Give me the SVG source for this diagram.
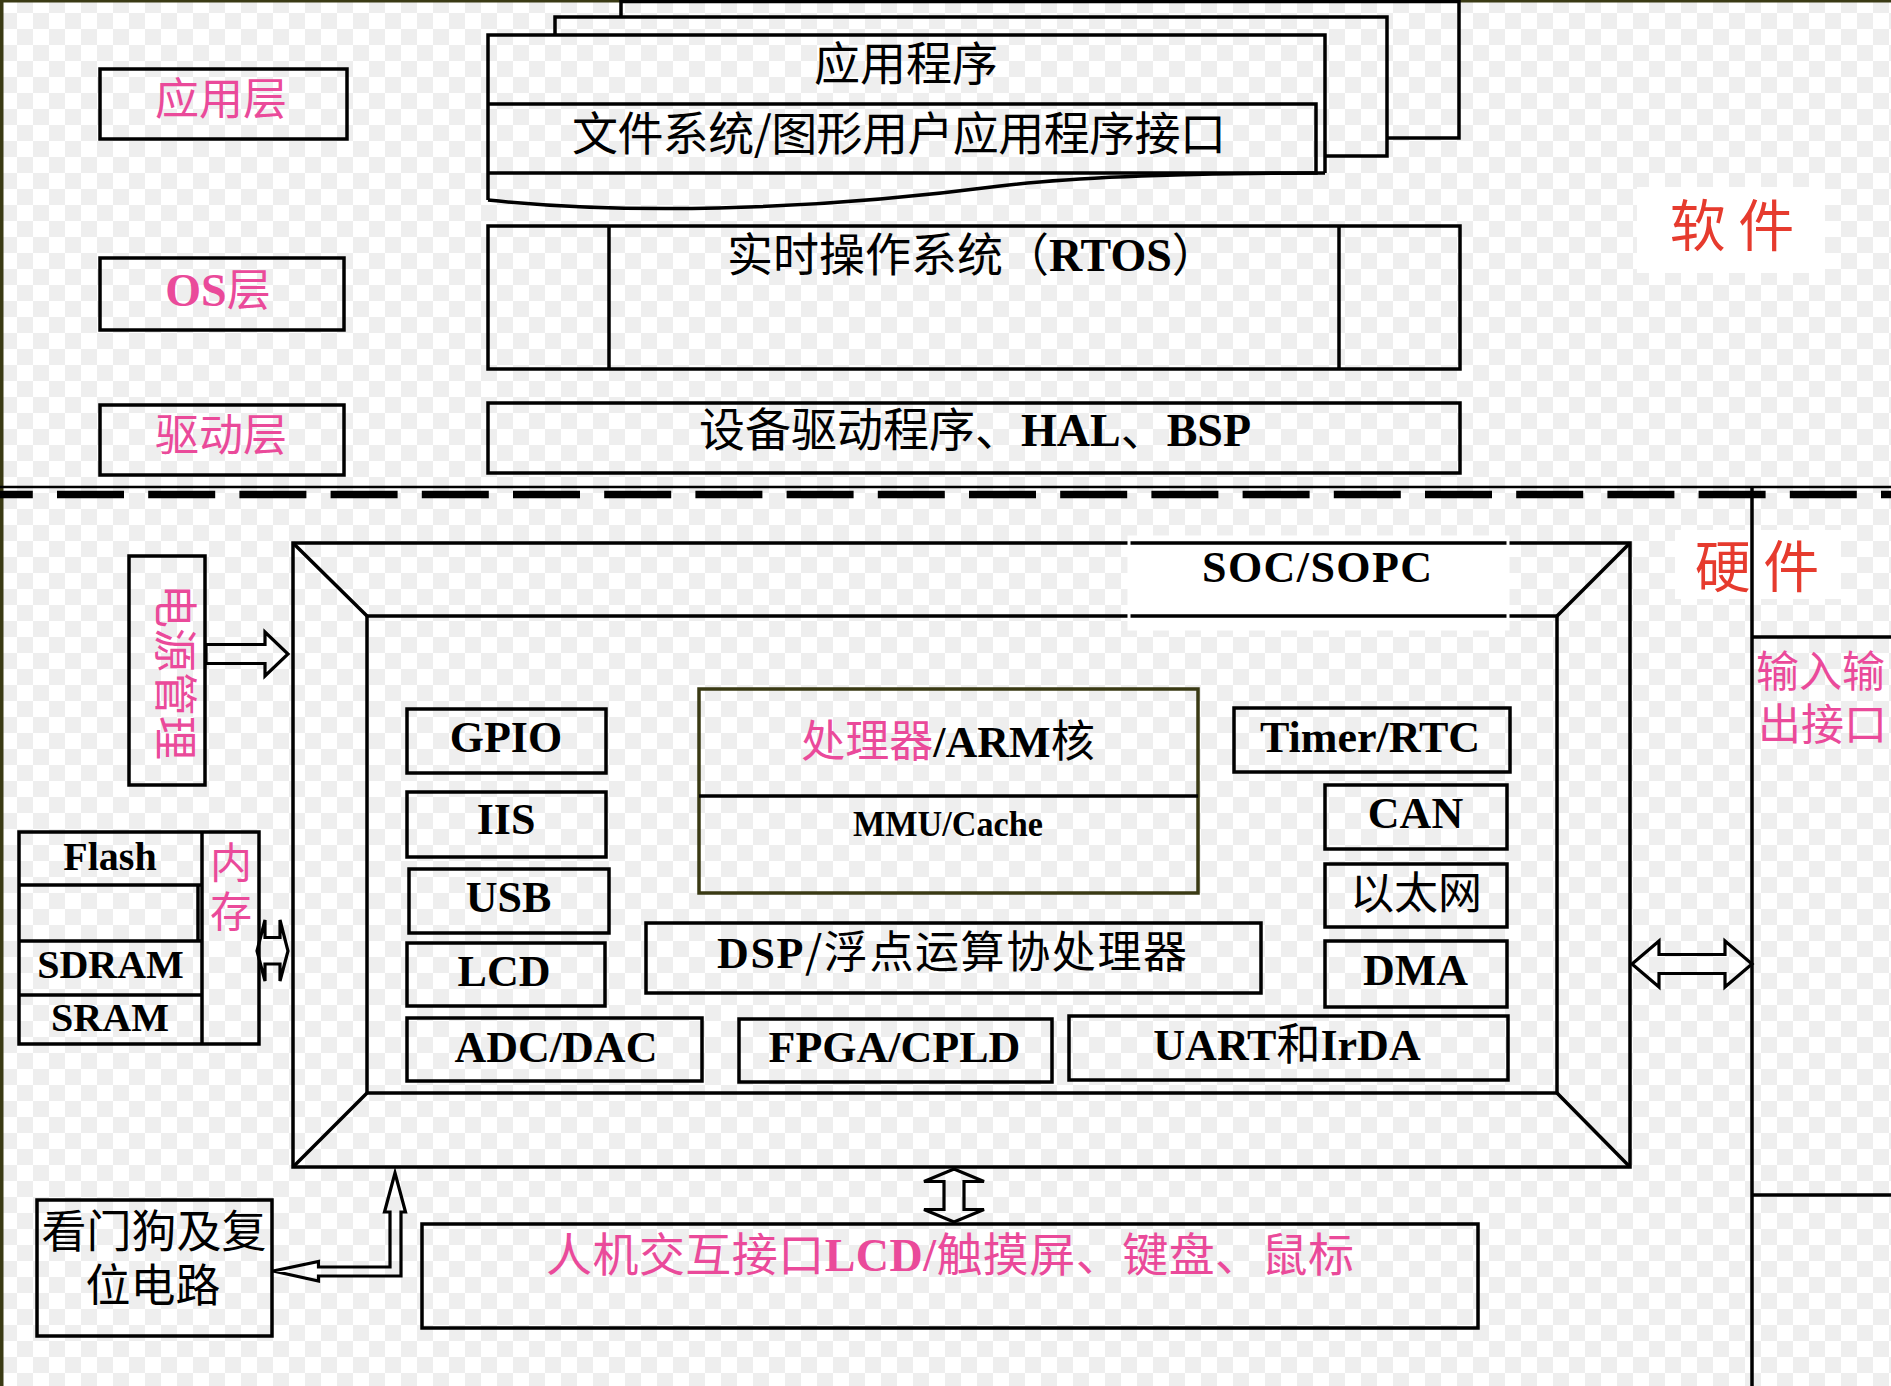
<svg xmlns="http://www.w3.org/2000/svg" width="1891" height="1386" viewBox="0 0 1891 1386">
<style>
.b{fill:none;stroke:#000;stroke-width:3.5}
.a{fill:none;stroke:#000;stroke-width:3.2;stroke-linejoin:miter}
.cjk{font-family:"Noto Sans CJK SC",sans-serif;font-weight:normal}
.lat{font-family:"Liberation Serif","Noto Sans CJK SC",serif;font-weight:bold}
.mix{font-family:"Liberation Serif","Noto Sans CJK SC",serif}
.pk{fill:#ea4a9a}
.rd{fill:#e63b2e}
.bk{fill:#000}
.wb{fill:#fff;stroke:none}
</style>
<defs>
<pattern id="chk" x="1" y="-3" width="32" height="32" patternUnits="userSpaceOnUse">
<rect width="32" height="32" fill="#fff"/>
<rect x="16" width="16" height="16" fill="#eeeeee"/>
<rect y="16" width="16" height="16" fill="#eeeeee"/>
</pattern>
</defs>
<rect width="1891" height="1386" fill="url(#chk)"/>
<rect x="0" y="0" width="1891" height="2.5" fill="#3a3a14"/>
<rect x="0" y="0" width="3.5" height="1386" fill="#3a3a14"/>

<!-- software side -->
<g id="label-app">
<rect class="b" x="100" y="69" width="247" height="70"/>
<text class="cjk pk" x="221" y="115" font-size="44" text-anchor="middle">应用层</text>
</g>
<g id="label-os">
<rect class="b" x="100" y="258" width="244" height="72"/>
<text x="218" y="306" text-anchor="middle" class="pk"><tspan class="lat" font-size="46">OS</tspan><tspan class="cjk" font-size="44">层</tspan></text>
</g>
<g id="label-drv">
<rect class="b" x="100" y="405" width="244" height="70"/>
<text class="cjk pk" x="221" y="451" font-size="44" text-anchor="middle">驱动层</text>
</g>

<g id="app-stack">
<path class="b" d="M621,17 V1.5 H1459 V138 H1387"/>
<path class="b" d="M555,35 V17 H1387 V156 H1325"/>
<path class="b" d="M488,200 V35 H1325 V173"/>
<path class="b" d="M488,104 H1316 V173 H488"/>
<path class="b" d="M488,200 C620,214 800,212 1000,186 C1080,176 1200,173 1325,173"/>
<text class="cjk bk" x="906" y="80" font-size="46" text-anchor="middle">应用程序</text>
<text class="cjk bk" x="899" y="150" font-size="46" text-anchor="middle" textLength="654">文件系统/图形用户应用程序接口</text>
</g>

<g id="rtos">
<rect class="b" x="488" y="226" width="972" height="143"/>
<line class="b" x1="609" y1="226" x2="609" y2="369"/>
<line class="b" x1="1339" y1="226" x2="1339" y2="369"/>
<text class="mix bk" x="727" y="271" font-size="46"><tspan class="cjk">实时操作系统（</tspan><tspan font-weight="bold">RTOS</tspan><tspan class="cjk">）</tspan></text>
</g>

<g id="drivers">
<rect class="b" x="488" y="403" width="972" height="70"/>
<text class="mix bk" x="699" y="446" font-size="46"><tspan class="cjk">设备驱动程序、</tspan><tspan font-weight="bold">HAL</tspan><tspan class="cjk">、</tspan><tspan font-weight="bold">BSP</tspan></text>
</g>

<g id="software-label">
<rect class="wb" x="1637" y="187" width="188" height="86"/>
<text class="cjk rd" x="1732" y="246" font-size="56" text-anchor="middle">软 件</text>
</g>

<!-- divider -->
<g id="divider">
<line x1="0" y1="487" x2="1891" y2="487" stroke="#000" stroke-width="2.5"/>
<line x1="0" y1="494.5" x2="1891" y2="494.5" stroke="#000" stroke-width="7.5" stroke-dasharray="67 24.2" stroke-dashoffset="34.2"/>
</g>

<!-- hardware side -->
<g id="hardware-label">
<rect class="wb" x="1675" y="530" width="166" height="69"/>
<text class="cjk rd" x="1757" y="587" font-size="56" text-anchor="middle">硬 件</text>
</g>

<g id="io">
<line class="b" x1="1752" y1="486" x2="1752" y2="1386"/>
<line class="b" x1="1752" y1="637" x2="1891" y2="637"/>
<line class="b" x1="1752" y1="1195" x2="1891" y2="1195"/>
<text class="cjk pk" x="1756" y="687" font-size="43">输入输</text>
<text class="cjk pk" x="1758" y="740" font-size="43">出接口</text>
</g>

<g id="soc">
<rect class="wb" x="1129" y="537" width="379" height="92"/>
<rect class="b" x="293" y="543" width="1337" height="624"/>
<rect class="b" x="367" y="616" width="1190" height="477"/>
<path class="b" d="M293,543 L367,616 M1630,543 L1557,616 M293,1167 L367,1093 M1630,1167 L1557,1093"/>
<rect x="1129" y="537" width="379" height="92" fill="none" stroke="#fff" stroke-width="3"/>
<text class="lat bk" x="1317" y="582" font-size="44" text-anchor="middle" textLength="230">SOC/SOPC</text>
</g>

<g id="gpio">
<rect class="b" x="407" y="709" width="199" height="64"/>
<text class="lat bk" x="506" y="752" font-size="44" text-anchor="middle">GPIO</text>
</g>
<g id="iis">
<rect class="b" x="407" y="792" width="199" height="65"/>
<text class="lat bk" x="506" y="834" font-size="44" text-anchor="middle">IIS</text>
</g>
<g id="usb">
<rect class="b" x="409" y="869" width="200" height="64"/>
<text class="lat bk" x="508.5" y="912" font-size="44" text-anchor="middle">USB</text>
</g>
<g id="lcd">
<rect class="b" x="407" y="943" width="198" height="63"/>
<text class="lat bk" x="504" y="986" font-size="44" text-anchor="middle">LCD</text>
</g>
<g id="adc">
<rect class="b" x="407" y="1018" width="295" height="63"/>
<text class="lat bk" x="556" y="1062" font-size="44" text-anchor="middle">ADC/DAC</text>
</g>
<g id="fpga">
<rect class="b" x="739" y="1019" width="313" height="63"/>
<text class="lat bk" x="894.5" y="1062" font-size="44" text-anchor="middle">FPGA/CPLD</text>
</g>
<g id="uart">
<rect class="b" x="1069" y="1016" width="439" height="64"/>
<text class="mix bk" x="1287" y="1060" font-size="44" text-anchor="middle"><tspan font-weight="bold">UART</tspan><tspan class="cjk">和</tspan><tspan font-weight="bold">IrDA</tspan></text>
</g>
<g id="dsp">
<rect class="b" x="646" y="923" width="615" height="70"/>
<text class="mix bk" x="952" y="968" font-size="44" text-anchor="middle" textLength="470"><tspan font-weight="bold">DSP</tspan><tspan class="cjk">/浮点运算协处理器</tspan></text>
</g>
<g id="cpu">
<rect x="699" y="689" width="499" height="204" fill="none" stroke="#3a3a14" stroke-width="3.5"/>
<line class="b" x1="699" y1="796" x2="1198" y2="796"/>
<text class="mix" x="948" y="757" font-size="44" text-anchor="middle"><tspan class="cjk pk">处理器</tspan><tspan class="bk" font-weight="bold">/ARM</tspan><tspan class="cjk bk">核</tspan></text>
<text class="lat bk" x="948" y="836" font-size="36" text-anchor="middle" textLength="190" lengthAdjust="spacingAndGlyphs">MMU/Cache</text>
</g>
<g id="timer">
<rect class="b" x="1234" y="708" width="276" height="64"/>
<text class="lat bk" x="1370" y="752" font-size="44" text-anchor="middle">Timer/RTC</text>
</g>
<g id="can">
<rect class="b" x="1325" y="785" width="182" height="64"/>
<text class="lat bk" x="1415.5" y="828" font-size="44" text-anchor="middle">CAN</text>
</g>
<g id="ethernet">
<rect class="b" x="1325" y="864" width="182" height="63"/>
<text class="cjk bk" x="1416" y="909" font-size="44" text-anchor="middle">以太网</text>
</g>
<g id="dma">
<rect class="b" x="1325" y="941" width="182" height="66"/>
<text class="lat bk" x="1415.5" y="985" font-size="44" text-anchor="middle">DMA</text>
</g>

<g id="power">
<rect class="b" x="129" y="556" width="76" height="229"/>
<text class="cjk pk" transform="translate(178,672) rotate(90)" font-size="44" text-anchor="middle" dominant-baseline="central">电源管理</text>
</g>

<g id="memory">
<rect class="b" x="19" y="832" width="240" height="212"/>
<line class="b" x1="202" y1="832" x2="202" y2="1044"/>
<line class="b" x1="19" y1="885" x2="202" y2="885"/>
<line class="b" x1="198" y1="885" x2="198" y2="941"/>
<line class="b" x1="19" y1="941" x2="202" y2="941"/>
<line class="b" x1="19" y1="995" x2="202" y2="995"/>
<text class="lat bk" x="110" y="870" font-size="40" text-anchor="middle">Flash</text>
<text class="lat bk" x="110.5" y="977.5" font-size="40" text-anchor="middle">SDRAM</text>
<text class="lat bk" x="110" y="1031" font-size="40" text-anchor="middle">SRAM</text>
<text class="cjk pk" x="231" y="878" font-size="42" text-anchor="middle">内</text>
<text class="cjk pk" x="231" y="927" font-size="42" text-anchor="middle">存</text>
</g>

<g id="watchdog">
<rect class="b" x="37" y="1200" width="235" height="136"/>
<text class="cjk bk" x="154" y="1248" font-size="45" text-anchor="middle">看门狗及复</text>
<text class="cjk bk" x="153" y="1302" font-size="45" text-anchor="middle">位电路</text>
</g>

<g id="hmi">
<rect class="b" x="422" y="1224" width="1056" height="104"/>
<text class="mix pk" x="950" y="1271" font-size="46" text-anchor="middle" textLength="808"><tspan class="cjk">人机交互接口</tspan><tspan font-weight="bold">LCD/</tspan><tspan class="cjk">触摸屏、键盘、鼠标</tspan></text>
</g>

<g id="connectors">
<polygon class="a" points="206,644.5 265,644.5 265,632 288,654 265,676 265,663.5 206,663.5"/>
<polygon class="a" points="257,951 265,920 265,937.5 280,937.5 280,920 288,951 280,981 280,964 265,964 265,981"/>
<polygon class="a" points="1632,964 1659,941 1659,954.5 1725,954.5 1725,941 1752,964 1725,987 1725,973.5 1659,973.5 1659,987"/>
<polygon class="a" points="954,1169 984,1181.5 964,1181.5 964,1209.5 984,1209.5 954,1222 924,1209.5 944,1209.5 944,1181.5 924,1181.5"/>
<polygon class="a" points="395,1173 405.5,1212 401,1212 401,1276 318.5,1276 318.5,1281 273,1271 318.5,1261.5 318.5,1267 390,1267 390,1212 384.5,1212"/>
</g>
</svg>
